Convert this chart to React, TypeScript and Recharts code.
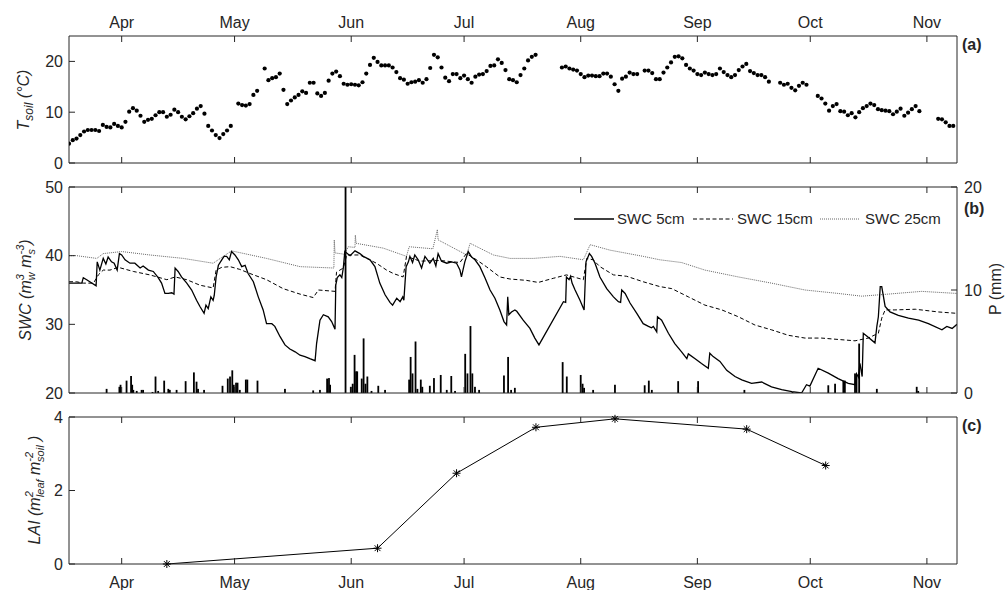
import React from 'react';
import { ComposedChart, Scatter, Line, Bar, XAxis, YAxis, Legend } from 'recharts';

// ---------- data ----------
const MONTH_TICKS = [91, 121, 152, 182, 213, 244, 274, 305];
const MONTH_LABELS = ['Apr', 'May', 'Jun', 'Jul', 'Aug', 'Sep', 'Oct', 'Nov'];
const X_DOMAIN: [number, number] = [77, 313];

// daily soil temperature, first value = day-of-year 77
const TSOIL_FIRST_DAY = 77;
const TSOIL: (number | null)[] = [
  3.8, 4.5, 4.8, 5.5, 6.2, 6.5, 6.5, 6.5, 6.3, 7.5, 7.1, 7.0, 7.7, 7.3,
  7.0, 8.1, 10.1, 10.8, 10.3, 9.3, 8.1, 8.5, 8.7, 9.4, 10.0, 10.0, 9.1, 9.5, 10.5, 10.0,
  9.1, 8.6, 9.2, 9.8, 10.7, 11.2, 9.7, 7.3, 6.4, 5.5, 4.9, 5.7, 6.4, 7.3,
  null, 11.7, 11.4, 11.3, 11.6, 13.4, 14.2, null, 18.6, 16.3, 16.7, 16.9, 17.6, 14.4, 11.6,
  12.3, 12.9, 13.4, 14.1, 13.8, 15.8, 15.8, 13.7, 13.2, 13.8, 16.2, 17.6, 18.0, 17.1, 15.6, 15.4,
  15.5, 15.4, 15.3, 15.9, 17.6, 19.3, 20.7, 19.9, 19.2, 19.2, 19.2, 18.8, 17.9, 16.7, 16.4,
  15.6, 15.9, 16.0, 16.3, 15.8, 16.5, 18.7, 21.3, 20.8, 18.8, 16.8, 16.1, 17.5, 17.5, 16.7,
  17.2, 16.5, 15.8, 17.0, 17.4, 17.5, 18.1, 19.1, 19.2, 20.4, 19.7, 18.3, 16.5, 16.3, 15.9,
  17.3, 18.6, 20.2, 20.9, 21.3, null, null, null, null, null, null, 18.8, 19.0, 18.6, 18.4, 18.2,
  17.5, 16.9, 17.2, 17.2, 17.1, 17.1, 17.6, 17.6, 17.0, 15.5, 14.2, 16.6, 17.0, 17.8, 17.5,
  17.5, null, 18.2, 18.2, 17.7, 16.5, 16.5, 17.8, 18.8, 19.8, 20.9, 21.0, 20.6, 19.3, 18.6, 18.2,
  17.5, 17.3, 17.8, 17.5, 17.3, 17.5, 18.6, 17.9, 17.3, 16.9, 17.3, 18.3, 19.0, 19.5, 18.1,
  17.7, 17.3, 17.3, 16.9, 16.0, null, null, 15.8, 15.4, 15.6, 14.8, 14.3, 15.2, 15.8, 15.4,
  null, null, 13.2, 12.7, 11.7, 10.3, 11.2, 11.6, 10.2, 10.1, 9.4, 9.8, 9.0, 10.0, 10.8, 11.2,
  11.7, 11.4, 10.6, 10.4, 10.3, 10.2, 9.6, 10.1, 10.7, 9.3, 9.9, 10.6, 11.2, 10.2,
  null, null, null, null, 8.7, 8.6, 8.0, 7.3, 7.3,
];

// soil water content [day, %]
const SWC5: [number, number][] = [
  [77.0, 36.0], [80.4, 36.0], [80.8, 36.8], [81.7, 36.5], [84.2, 35.6], [84.5, 39.1], [85.2, 37.9],
  [86.1, 39.6], [86.8, 38.8], [87.4, 39.8], [88.3, 39.1], [89.0, 38.9], [89.8, 37.9], [90.4, 40.3],
  [91.0, 40.1], [91.9, 39.4], [93.2, 38.9], [94.5, 38.9], [95.9, 38.2], [96.7, 38.5], [98.1, 37.9],
  [99.4, 37.7], [100.7, 36.8], [101.6, 36.0], [102.5, 34.5], [103.4, 34.5], [104.3, 34.6], [104.9, 34.4],
  [105.2, 38.2], [106.0, 37.7], [106.9, 36.9], [108.3, 36.0], [109.6, 35.0], [110.9, 33.5], [111.8, 32.6],
  [112.9, 31.6], [113.4, 32.8], [114.0, 32.3], [114.7, 34.0], [115.3, 33.5], [115.6, 34.2], [116.1, 36.9],
  [116.7, 38.6], [117.6, 39.4], [118.2, 39.9], [118.9, 39.9], [119.6, 39.4], [120.2, 40.6], [121.1, 40.1],
  [122.0, 39.4], [122.9, 38.4], [123.8, 38.6], [124.6, 37.4], [126.0, 36.2], [127.3, 34.0], [128.6, 32.1],
  [129.5, 30.1], [130.9, 30.1], [131.7, 29.7], [133.1, 28.2], [134.4, 27.0], [135.7, 26.4], [137.1, 26.0],
  [138.4, 25.5], [139.7, 25.3], [141.0, 25.0], [142.4, 24.7], [142.8, 27.2], [143.7, 30.6], [144.6, 31.4],
  [145.9, 31.1], [146.8, 30.4], [147.7, 29.3], [147.9, 35.7], [148.3, 36.8], [149.0, 37.2], [149.5, 36.8],
  [149.9, 38.2], [150.3, 40.6], [151.7, 40.0], [153.0, 40.7], [154.3, 40.3], [155.2, 39.9], [157.0, 39.4],
  [158.3, 38.4], [159.6, 36.0], [161.0, 34.3], [162.3, 33.2], [163.0, 32.8], [164.1, 33.8], [165.0, 33.3],
  [165.7, 34.0], [166.0, 33.5], [166.3, 36.0], [166.6, 38.4], [167.2, 39.1], [167.6, 39.9], [168.3, 39.0],
  [168.9, 40.1], [169.8, 39.4], [170.7, 38.2], [171.6, 39.9], [172.9, 38.9], [173.8, 39.6], [174.5, 38.5],
  [175.1, 40.3], [176.0, 39.2], [177.4, 38.9], [178.7, 39.1], [180.0, 38.9], [180.9, 37.9], [181.3, 36.9],
  [182.2, 39.1], [183.1, 40.6], [184.0, 39.8], [184.9, 39.4], [186.2, 38.4], [187.6, 36.7], [188.9, 35.0],
  [190.2, 33.8], [191.5, 32.1], [192.6, 30.4], [193.3, 29.9], [193.6, 34.0], [193.9, 31.4], [194.6, 31.8],
  [195.5, 32.1], [196.0, 31.9], [197.7, 30.6], [199.5, 29.4], [200.8, 28.0], [201.9, 27.0], [208.4, 33.3],
  [209.0, 33.2], [209.2, 36.9], [209.9, 36.5], [210.3, 37.0], [210.7, 36.0], [211.5, 35.0], [212.8, 33.5],
  [213.9, 32.1], [214.4, 39.1], [215.3, 40.3], [215.9, 39.9], [216.8, 38.9], [218.1, 36.9], [219.9, 35.2],
  [221.7, 34.0], [223.0, 33.3], [223.6, 33.2], [223.9, 35.0], [224.8, 34.5], [226.1, 33.1], [227.9, 31.6],
  [229.6, 30.1], [231.0, 29.7], [231.8, 29.5], [232.3, 29.7], [233.2, 28.9], [233.4, 31.1], [234.5, 30.6],
  [236.3, 28.7], [238.0, 27.2], [239.8, 26.0], [241.2, 25.0], [241.6, 25.7], [243.4, 25.0], [245.1, 24.3],
  [246.9, 23.6], [247.3, 25.8], [248.2, 25.3], [250.0, 24.6], [251.8, 23.3], [254.0, 22.4], [255.8, 21.9],
  [258.4, 21.4], [261.1, 21.6], [263.7, 20.9], [266.4, 20.5], [269.1, 20.2], [271.7, 20.0], [273.0, 21.2],
  [273.9, 21.0], [276.1, 23.6], [278.8, 22.9], [281.4, 22.1], [284.1, 21.4], [285.9, 21.2], [286.3, 22.8],
  [286.8, 22.3], [287.2, 24.3], [287.8, 22.4], [288.1, 28.7], [289.0, 28.3], [291.2, 27.3], [291.7, 29.7],
  [292.1, 31.1], [292.6, 35.5], [293.0, 35.5], [293.9, 32.6], [295.2, 31.8], [297.4, 31.3], [300.1, 30.9],
  [302.8, 30.6], [305.4, 30.1], [309.0, 29.2], [310.3, 29.7], [311.7, 29.4], [313.0, 30.0],
];

const SWC15: [number, number][] = [
  [77.0, 36.2], [79.0, 36.2], [80.8, 36.0], [83.5, 36.0], [84.8, 37.2], [86.1, 37.9], [87.9, 37.9],
  [90.1, 38.3], [94.1, 37.7], [98.5, 37.2], [103.0, 36.5], [105.2, 36.9], [108.3, 36.5], [111.8, 35.7],
  [115.3, 35.3], [116.1, 37.9], [117.6, 38.3], [119.8, 38.4], [122.4, 38.0], [125.1, 37.4], [129.5, 36.5],
  [133.9, 35.2], [138.4, 34.4], [141.9, 33.9], [143.3, 35.0], [147.7, 34.8], [148.1, 37.6], [149.9, 38.2],
  [150.8, 40.1], [154.3, 40.1], [158.7, 38.9], [161.4, 37.9], [163.2, 37.4], [165.8, 36.9], [166.7, 39.9],
  [170.3, 39.2], [175.6, 39.3], [180.9, 39.0], [182.6, 40.3], [185.3, 39.4], [187.9, 38.4], [191.5, 36.9],
  [194.2, 36.6], [198.6, 36.4], [201.7, 36.1], [205.7, 36.7], [209.2, 37.2], [213.7, 36.5], [214.6, 39.6],
  [216.3, 39.4], [218.1, 38.4], [221.7, 37.2], [225.2, 37.0], [229.6, 36.2], [234.0, 35.5], [237.2, 35.2],
  [241.6, 34.0], [246.0, 32.8], [250.5, 32.1], [254.9, 31.1], [259.3, 29.9], [263.7, 29.2], [268.2, 28.4],
  [272.6, 28.0], [277.0, 28.0], [281.4, 27.8], [285.9, 27.6], [289.4, 28.0], [292.1, 28.7], [293.0, 30.9],
  [293.9, 32.1], [296.5, 32.1], [301.9, 32.2], [308.1, 31.8], [313.0, 31.6],
];

const SWC25: [number, number][] = [
  [77.0, 40.0], [79.0, 40.0], [84.4, 39.6], [86.1, 40.3], [91.0, 40.6], [98.5, 40.1], [107.4, 39.6],
  [115.3, 38.9], [120.2, 40.7], [129.5, 39.6], [138.4, 38.4], [147.4, 38.2], [147.5, 42.3], [147.7, 40.4],
  [150.3, 40.2], [151.2, 41.3], [153.0, 41.2], [153.1, 43.0], [153.3, 41.8], [160.5, 41.1], [166.7, 39.9],
  [167.4, 41.3], [173.7, 41.0], [174.9, 43.8], [175.1, 42.3], [182.7, 40.1], [183.6, 41.8], [189.8, 40.1],
  [194.2, 39.6], [200.4, 39.6], [207.5, 39.9], [213.7, 39.4], [215.5, 41.6], [220.8, 40.8], [229.6, 39.9],
  [234.0, 39.4], [239.8, 39.0], [246.0, 37.9], [254.9, 36.9], [263.7, 36.0], [272.6, 35.0], [281.4, 34.5],
  [287.7, 34.1], [294.7, 34.4], [303.6, 34.8], [313.0, 34.5],
];

// precipitation [day, mm]
const PRECIP: [number, number][] = [
  [87.0, 0.4], [90.4, 0.6], [90.7, 0.8], [92.3, 1.2], [93.5, 1.65], [93.8, 0.8], [94.1, 0.3], [95.0, 0.2],
  [96.3, 0.3], [96.7, 0.3], [99.2, 0.1], [100.0, 1.6], [100.7, 0.2], [102.3, 1.2], [103.4, 0.4], [103.8, 0.3],
  [105.6, 0.3], [108.0, 1.15], [110.2, 2.0], [110.9, 1.1], [111.3, 0.4], [112.9, 0.3], [117.8, 0.7],
  [119.2, 1.4], [119.8, 1.6], [120.4, 2.2], [120.8, 0.8], [121.4, 1.0], [121.8, 1.0], [122.4, 0.3],
  [124.0, 1.3], [124.4, 1.3], [127.1, 1.2], [134.4, 0.4], [141.9, 0.25], [143.7, 0.3], [145.6, 1.4],
  [146.1, 1.45], [146.4, 0.8], [150.5, 20], [151.9, 0.6], [152.4, 0.9], [152.9, 3.7], [153.3, 2.1],
  [153.6, 2.1], [154.8, 1.4], [155.3, 5.3], [155.8, 0.9], [156.3, 1.6], [157.4, 0.2], [159.2, 0.7],
  [161.0, 0.3], [167.4, 1.3], [167.8, 3.5], [168.3, 1.9], [169.1, 5.0], [169.6, 0.4], [170.5, 1.3],
  [170.9, 0.6], [172.9, 0.7], [174.0, 1.45], [175.8, 1.75], [177.4, 0.3], [178.6, 1.65], [179.6, 0.2],
  [182.3, 3.8], [182.9, 1.9], [183.7, 6.5], [184.2, 1.9], [184.9, 0.6], [186.0, 0.3], [192.6, 1.7],
  [193.7, 3.5], [194.5, 0.3], [195.5, 0.5], [208.2, 3.0], [209.3, 1.6], [213.0, 1.75], [213.5, 0.9],
  [213.9, 0.5], [216.3, 0.3], [222.1, 0.8], [230.0, 0.75], [231.1, 1.2], [231.9, 0.3], [238.9, 1.15],
  [244.2, 1.15], [256.5, 0.3], [269.3, 0.1], [278.8, 0.75], [280.6, 0.9], [282.8, 1.2], [283.2, 1.2],
  [285.9, 1.9], [286.3, 1.8], [287.0, 4.8], [291.7, 0.4], [302.3, 0.6], [302.7, 0.2],
];

const LAI_DAYS = [103.0, 159.0, 180.0, 201.1, 222.1, 257.1, 278.1];
const LAI_VALUES = [0, 0.43, 2.47, 3.72, 3.95, 3.67, 2.68];

// ---------- derived tables ----------
const tsoilData = TSOIL.map((t, i) => ({ day: TSOIL_FIRST_DAY + i, t })).filter((d) => d.t !== null);
const toRows = (arr: [number, number][]) => arr.map(([day, v]) => ({ day, v }));
const swc5Data = toRows(SWC5);
const swc15Data = toRows(SWC15);
const swc25Data = toRows(SWC25);
const precipData = PRECIP.map(([day, p]) => ({ day, p }));
const laiData = LAI_DAYS.map((day, i) => ({ day, lai: LAI_VALUES[i] }));

// ---------- style ----------
const FONT = '"Liberation Sans", Arial, Helvetica, sans-serif';
const AX = '#262626';
const TICK_FONT = 16;
const monthFmt = (v: number) => MONTH_LABELS[MONTH_TICKS.indexOf(v)] ?? '';
const blank = () => '';
const tickStyle = { fill: AX, fontSize: TICK_FONT, fontFamily: FONT };

const TDot = (props: any) => {
  const { cx, cy } = props;
  if (cx == null || cy == null) return <g />;
  return <circle cx={cx} cy={cy} r={2.1} fill="#000" />;
};

const PBar = (props: any) => {
  const { x, y, width, height } = props;
  if (x == null || y == null || !height) return <g />;
  const cx = x + (width || 0) / 2;
  return <rect x={cx - 0.9} y={y} width={1.8} height={height} fill="#000" />;
};

const Asterisk = (props: any) => {
  const { cx, cy, index } = props;
  if (cx == null || cy == null) return <g key={`a${index}`} />;
  const r = 4;
  const d = 2.9;
  return (
    <g key={`a${index}`} stroke="#000" strokeWidth={1}>
      <line x1={cx - r} y1={cy} x2={cx + r} y2={cy} />
      <line x1={cx} y1={cy - r} x2={cx} y2={cy + r} />
      <line x1={cx - d} y1={cy - d} x2={cx + d} y2={cy + d} />
      <line x1={cx - d} y1={cy + d} x2={cx + d} y2={cy - d} />
    </g>
  );
};

const SwcLegend = () => (
  <svg width={390} height={20} style={{ display: 'block', overflow: 'visible' }}>
    <line x1={0} y1={10} x2={40} y2={10} stroke="#000" strokeWidth={1.3} />
    <text x={43} y={15} fontSize={15} fill={AX} fontFamily={FONT}>SWC 5cm</text>
    <line x1={119} y1={10} x2={159} y2={10} stroke="#000" strokeWidth={1} strokeDasharray="4 2.5" />
    <text x={163} y={15} fontSize={15} fill={AX} fontFamily={FONT}>SWC 15cm</text>
    <line x1={246} y1={10} x2={286} y2={10} stroke="#666" strokeWidth={1} strokeDasharray="1 1" />
    <text x={291} y={15} fontSize={15} fill={AX} fontFamily={FONT}>SWC 25cm</text>
  </svg>
);

const commonX = {
  type: 'number' as const,
  dataKey: 'day',
  domain: X_DOMAIN,
  allowDataOverflow: true,
  ticks: MONTH_TICKS,
  interval: 0 as const,
  stroke: AX,
  tickSize: -6,
};

export default function App() {
  return (
    <div style={{ position: 'absolute', left: 0, top: 0, width: 1006, height: 590, background: '#fff', fontFamily: FONT }}>
      {/* (a) soil temperature */}
      <div style={{ position: 'absolute', left: 0, top: 0 }}>
        <ComposedChart width={1006} height={175} margin={{ top: 6, right: 0, bottom: 0, left: 9 }}>
          <XAxis {...commonX} xAxisId="top" orientation="top" height={30} tickMargin={14.5} tickFormatter={monthFmt} tick={tickStyle} />
          <XAxis {...commonX} xAxisId="bot" orientation="bottom" height={12} tickFormatter={blank} tick={tickStyle} />
          <YAxis yAxisId="l" dataKey="t" orientation="left" type="number" domain={[0, 25]} ticks={[0, 10, 20]} interval={0} width={60} stroke={AX} tickSize={-6} tickMargin={12} tick={tickStyle} />
          <YAxis yAxisId="r" orientation="right" type="number" domain={[0, 25]} ticks={[0, 10, 20]} interval={0} width={49} stroke={AX} tickSize={-6} tickFormatter={blank} tick={tickStyle} />
          <Scatter xAxisId="bot" yAxisId="l" data={tsoilData} dataKey="t" shape={TDot} isAnimationActive={false} />
        </ComposedChart>
      </div>

      {/* (b) soil water content & precipitation */}
      <div style={{ position: 'absolute', left: 0, top: 175 }}>
        <ComposedChart width={1006} height={235} data={precipData} margin={{ top: 0, right: 0, bottom: 0, left: 9 }}>
          <XAxis {...commonX} xAxisId="top" orientation="top" height={12} tickFormatter={blank} tick={tickStyle} />
          <XAxis {...commonX} xAxisId="x" orientation="bottom" height={17} tickFormatter={blank} tick={tickStyle} />
          <YAxis yAxisId="swc" orientation="left" type="number" domain={[20, 50]} allowDataOverflow ticks={[20, 30, 40, 50]} interval={0} width={60} stroke={AX} tickSize={-6} tickMargin={12} tick={tickStyle} />
          <YAxis yAxisId="p" orientation="right" type="number" domain={[0, 20]} allowDataOverflow ticks={[0, 10, 20]} interval={0} width={49} stroke={AX} tickSize={-6} tickMargin={13} tick={tickStyle} />
          <Bar xAxisId="x" yAxisId="p" dataKey="p" fill="#000" barSize={2} shape={PBar} isAnimationActive={false} />
          <Line xAxisId="x" yAxisId="swc" data={swc25Data} dataKey="v" stroke="#666" strokeWidth={1} strokeDasharray="1 1" dot={false} activeDot={false} isAnimationActive={false} />
          <Line xAxisId="x" yAxisId="swc" data={swc15Data} dataKey="v" stroke="#000" strokeWidth={1} strokeDasharray="4 2.5" dot={false} activeDot={false} isAnimationActive={false} />
          <Line xAxisId="x" yAxisId="swc" data={swc5Data} dataKey="v" stroke="#000" strokeWidth={1.3} dot={false} activeDot={false} isAnimationActive={false} />
          <Legend layout="horizontal" verticalAlign="middle" align="center" content={SwcLegend} wrapperStyle={{ position: 'absolute', left: 574, top: 34, width: 390, height: 20 }} />
        </ComposedChart>
      </div>

      {/* (c) LAI */}
      <div style={{ position: 'absolute', left: 0, top: 400 }}>
        <ComposedChart width={1006} height={190} margin={{ top: 0, right: 0, bottom: 0, left: 9 }}>
          <XAxis {...commonX} xAxisId="top" orientation="top" height={17} tickFormatter={blank} tick={tickStyle} />
          <XAxis {...commonX} xAxisId="x" orientation="bottom" height={26} tickMargin={18.5} tickFormatter={monthFmt} tick={tickStyle} />
          <YAxis yAxisId="l" orientation="left" type="number" domain={[0, 4]} ticks={[0, 2, 4]} interval={0} width={60} stroke={AX} tickSize={-6} tickMargin={12} tick={tickStyle} />
          <YAxis yAxisId="r" orientation="right" type="number" domain={[0, 4]} ticks={[0, 2, 4]} interval={0} width={49} stroke={AX} tickSize={-6} tickFormatter={blank} tick={tickStyle} />
          <Line xAxisId="x" yAxisId="l" data={laiData} dataKey="lai" stroke="#000" strokeWidth={1} dot={Asterisk} activeDot={false} isAnimationActive={false} />
        </ComposedChart>
      </div>

      {/* axis titles and panel letters */}
      <svg width={1006} height={590} style={{ position: 'absolute', left: 0, top: 0, pointerEvents: 'none' }} fontFamily={FONT} fill={AX}>
        <text transform="translate(29,100) rotate(-90)" textAnchor="middle" fontSize={16} fontStyle="italic">
          <tspan>T</tspan>
          <tspan fontSize={12} dy={4}>soil</tspan>
          <tspan dy={-4}> (°C)</tspan>
        </text>
        <text transform="translate(31,290) rotate(-90)" textAnchor="middle" fontSize={16} fontStyle="italic">
          <tspan>SWC (m</tspan>
          <tspan fontSize={11} dy={-7}>3</tspan>
          <tspan fontSize={11} dx={-6} dy={11}>w</tspan>
          <tspan dy={-4}> m</tspan>
          <tspan fontSize={11} dy={4}>s</tspan>
          <tspan fontSize={11} dx={-5.5} dy={-11}>-3</tspan>
          <tspan dy={7}>)</tspan>
        </text>
        <text transform="translate(40,490) rotate(-90)" textAnchor="middle" fontSize={16} fontStyle="italic">
          <tspan>LAI (m</tspan>
          <tspan fontSize={11} dy={-7}>2</tspan>
          <tspan fontSize={11} dx={-6} dy={11}>leaf</tspan>
          <tspan dy={-4}> m</tspan>
          <tspan fontSize={11} dy={-7}>-2</tspan>
          <tspan fontSize={11} dx={-10} dy={11}>soil</tspan>
          <tspan dy={-4}> )</tspan>
        </text>
        <text transform="translate(1001,289) rotate(-90)" textAnchor="middle" fontSize={16}>P (mm)</text>
        <text x={962} y={50} fontSize={16} fontWeight="bold">(a)</text>
        <text x={964} y={214} fontSize={16} fontWeight="bold">(b)</text>
        <text x={962} y={431} fontSize={16} fontWeight="bold">(c)</text>
      </svg>
    </div>
  );
}
